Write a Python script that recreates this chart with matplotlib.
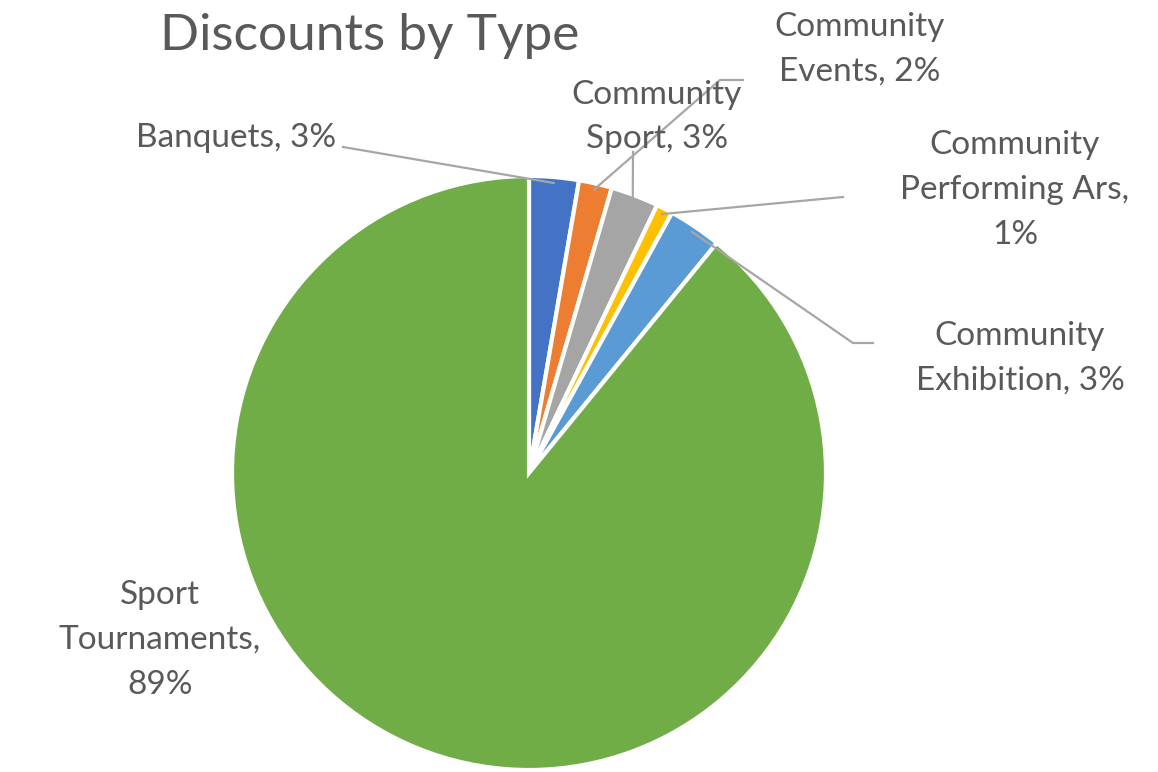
import matplotlib.pyplot as plt
import numpy as np

# slices in drawing order (clockwise from 12 o'clock)
categories = ['Banquets', 'Community Events', 'Community Sport',
              'Community Performing Ars', 'Community Exhibition', 'Sport Tournaments']
shares = [2.7, 1.8, 2.6, 0.9, 2.9, 89.1]
colors = ['#4472C4', '#ED7D31', '#A5A5A5', '#FFC000', '#5B9BD5', '#70AD47']

W, H = 1158, 772
plt.rcParams['font.family'] = ['Lato', 'DejaVu Sans']

fig = plt.figure(figsize=(W / 100, H / 100), dpi=100)
ax = fig.add_axes([0, 0, 1, 1])

def fy(y):
    # pixel row (top down) -> axis y (bottom up)
    return H - y

cx, cy, r = 529, fy(473), 297
wedges, _ = ax.pie(shares, colors=colors, startangle=90, counterclock=False,
                   center=(cx, cy), radius=r,
                   wedgeprops=dict(edgecolor='white', linewidth=3))
ax.set_xlim(0, W)
ax.set_ylim(0, H)
ax.set_aspect('auto')
ax.axis('off')

txt_col = '#595959'
line_col = '#A6A6A6'

ax.text(160, fy(36), 'Discounts by Type', fontsize=37, color=txt_col,
        ha='left', va='center')

# label layout: text anchor, alignment, leader path (pixel coords)
label_text = {
    0: 'Banquets, {}%',
    1: 'Community\nEvents, {}%',
    2: 'Community\nSport, {}%',
    3: 'Community\nPerforming Ars,\n{}%',
    4: 'Community\nExhibition, {}%',
    5: 'Sport\nTournaments,\n{}%',
}
label_pos = {0: (336, 138, 'right'), 1: (860, 49, 'center'), 2: (657, 117, 'center'),
             3: (1015, 190, 'center'), 4: (1020, 358, 'center'), 5: (160, 640, 'center')}
leader_start = {0: [(343, 147)], 1: [(743, 80), (720, 80)], 2: [(633, 152)],
                3: [(843, 197)], 4: [(873, 343), (853, 343)]}

for i, w in enumerate(wedges):
    pct = int(np.floor(shares[i] + 0.5))
    x, y, ha = label_pos[i]
    ax.text(x, fy(y), label_text[i].format(pct), fontsize=24, color=txt_col,
            ha=ha, va='center', multialignment='center', linespacing=1.62)
    if i in leader_start:
        mid = np.deg2rad((w.theta1 + w.theta2) / 2)
        ex, ey = cx + r * 0.98 * np.cos(mid), cy + r * 0.98 * np.sin(mid)
        pts = [(px, fy(py)) for px, py in leader_start[i]] + [(ex, ey)]
        xs, ys = zip(*pts)
        ax.plot(xs, ys, color=line_col, linewidth=1.6, zorder=3)

fig.savefig('out.png', dpi=100, facecolor='white')
